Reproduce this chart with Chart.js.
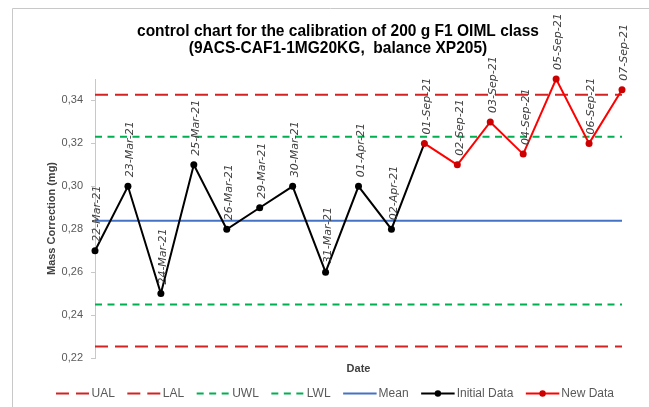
<!DOCTYPE html>
<html><head><meta charset="utf-8">
<script src="https://cdn.jsdelivr.net/npm/chart.js@4/dist/chart.umd.min.js"></script>
<style>html,body{margin:0;padding:0;background:#fff;overflow:hidden}canvas{display:block}</style>
</head><body>
<canvas id="c" width="649" height="407"></canvas>
<script>
const titleLines = ['control chart for the calibration of 200 g F1 OIML class', '(9ACS-CAF1-1MG20KG,  balance XP205)'];
const categories = ['22-Mar-21','23-Mar-21','24-Mar-21','25-Mar-21','26-Mar-21','29-Mar-21','30-Mar-21','31-Mar-21','01-Apr-21','02-Apr-21',
  '01-Sep-21','02-Sep-21','03-Sep-21','04-Sep-21','05-Sep-21','06-Sep-21','07-Sep-21'];
const initialData = [0.27,0.30,0.25,0.31,0.28,0.29,0.30,0.26,0.30,0.28,0.32,null,null,null,null,null,null];
const newData = [null,null,null,null,null,null,null,null,null,null,0.32,0.31,0.33,0.315,0.35,0.32,0.345];
const UAL = 0.3427, UWL = 0.3231, MEAN = 0.284, LWL = 0.2449, LAL = 0.2254;
const yTicks = [0.22,0.24,0.26,0.28,0.30,0.32,0.34];
const yMin = 0.22, yMax = 0.35;

const constLine = v => categories.map(() => v);

const decor = {
  id: 'decor',
  beforeDraw(chart) {
    const ctx = chart.ctx;
    ctx.save();
    ctx.strokeStyle = '#c8c8c8'; ctx.lineWidth = 1;
    ctx.beginPath(); ctx.moveTo(12.5, chart.height); ctx.lineTo(12.5, 8.5); ctx.lineTo(chart.width, 8.5); ctx.stroke();
    ctx.restore();
  },
  afterDatasetsDraw(chart) {
    const ctx = chart.ctx, xs = chart.scales.x, ys = chart.scales.y;
    ctx.save();
    ctx.font = 'italic 11px "DejaVu Sans"';
    ctx.fillStyle = '#404040'; ctx.textAlign = 'left'; ctx.textBaseline = 'middle';
    categories.forEach((c, i) => {
      const v = newData[i] != null ? newData[i] : initialData[i];
      if (v == null) return;
      const x = xs.getPixelForValue(i), y = ys.getPixelForValue(v);
      ctx.save(); ctx.translate(x + 2.5, y - 9); ctx.rotate(-Math.PI / 2); ctx.fillText(c, 0, 0); ctx.restore();
    });
    ctx.restore();
  },
  afterDraw(chart) {
    const ctx = chart.ctx;
    // title
    ctx.save();
    ctx.font = 'bold 17px "Liberation Sans"';
    ctx.fillStyle = '#000';
    const sx = 402 / ctx.measureText(titleLines[0]).width;
    ctx.textAlign = 'center'; ctx.textBaseline = 'alphabetic';
    titleLines.forEach((t, k) => {
      ctx.save(); ctx.translate(338, 36 + 17 * k); ctx.scale(sx, 1); ctx.fillText(t, 0, 0); ctx.restore();
    });
    ctx.restore();
    // legend
    ctx.save();
    ctx.font = '12px "Liberation Sans"';
    const items = chart.data.datasets;
    const lineLen = 33.5, tGap = 2, iGap = 12.5;
    const widths = items.map(d => ctx.measureText(d.label).width);
    const total = widths.reduce((a, w) => a + lineLen + tGap + w, 0) + iGap * (items.length - 1);
    let x = 335 - total / 2; const y = 393.5;
    items.forEach((d, k) => {
      ctx.save();
      ctx.strokeStyle = d.borderColor; ctx.lineWidth = d.borderWidth; ctx.setLineDash(d.borderDash || []);
      ctx.beginPath(); ctx.moveTo(x, y); ctx.lineTo(x + lineLen, y); ctx.stroke();
      if (d.legendDot) {
        ctx.setLineDash([]); ctx.fillStyle = d.pointBackgroundColor;
        ctx.beginPath(); ctx.arc(x + lineLen / 2, y, 3.2, 0, Math.PI * 2); ctx.fill();
      }
      ctx.restore();
      ctx.fillStyle = '#595959'; ctx.textAlign = 'left'; ctx.textBaseline = 'middle';
      ctx.fillText(d.label, x + lineLen + tGap, y + 0.5);
      x += lineLen + tGap + widths[k] + iGap;
    });
    ctx.restore();
  }
};

new Chart(document.getElementById('c'), {
  type: 'line',
  data: {
    labels: categories,
    datasets: [
      { label: 'UAL', data: constLine(UAL), borderColor: '#d42222', borderWidth: 2, borderDash: [13, 7], pointRadius: 0, order: 7 },
      { label: 'LAL', data: constLine(LAL), borderColor: '#d42222', borderWidth: 2, borderDash: [13, 7], pointRadius: 0, order: 6 },
      { label: 'UWL', data: constLine(UWL), borderColor: '#00b050', borderWidth: 2, borderDash: [7, 5.5], pointRadius: 0, order: 5 },
      { label: 'LWL', data: constLine(LWL), borderColor: '#00b050', borderWidth: 2, borderDash: [7, 5.5], pointRadius: 0, order: 4 },
      { label: 'Mean', data: constLine(MEAN), borderColor: '#4472c4', borderWidth: 2, pointRadius: 0, order: 3 },
      { label: 'Initial Data', data: initialData, borderColor: '#000000', borderWidth: 2,
        pointRadius: categories.map((c, i) => (newData[i] != null ? 0 : 3.5)), pointBackgroundColor: '#000000', pointBorderWidth: 0,
        legendDot: true, clip: false, order: 2 },
      { label: 'New Data', data: newData, borderColor: '#ff0000', borderWidth: 2, pointRadius: 3.5,
        pointBackgroundColor: '#cc0000', pointBorderColor: '#cc0000', pointBorderWidth: 0, legendDot: true, clip: false, order: 1 }
    ]
  },
  options: {
    responsive: false,
    animation: false,
    layout: { padding: { left: 0, top: 79, right: 27, bottom: 0 } },
    plugins: { legend: { display: false }, title: { display: false }, tooltip: { enabled: false } },
    elements: { line: { tension: 0 } },
    scales: {
      x: {
        type: 'category', offset: false,
        afterFit(s) { s.height = 49; },
        ticks: { display: false }, grid: { display: false }, border: { display: false },
        title: { display: true, text: 'Date', color: '#404040', font: { family: '"Liberation Sans"', size: 11, weight: 'bold' }, padding: { top: 0, bottom: 31.4 } }
      },
      y: {
        min: yMin, max: yMax,
        afterFit(s) { s.width = 95; },
        afterBuildTicks(s) { s.ticks = yTicks.map(v => ({ value: v })); },
        ticks: { callback: v => Number(v).toFixed(2).replace('.', ','), color: '#595959', font: { family: '"Liberation Sans"', size: 11 }, padding: 8 },
        grid: { drawOnChartArea: false, drawTicks: true, tickLength: 4, color: '#c8c8c8' },
        border: { color: '#c8c8c8', width: 1 },
        title: { display: true, text: 'Mass Correction (mg)', color: '#404040', font: { family: '"Liberation Sans"', size: 11, weight: 'bold' }, padding: { top: 45.4, bottom: 0 } }
      }
    }
  },
  plugins: [decor]
});
</script>
</body></html>
